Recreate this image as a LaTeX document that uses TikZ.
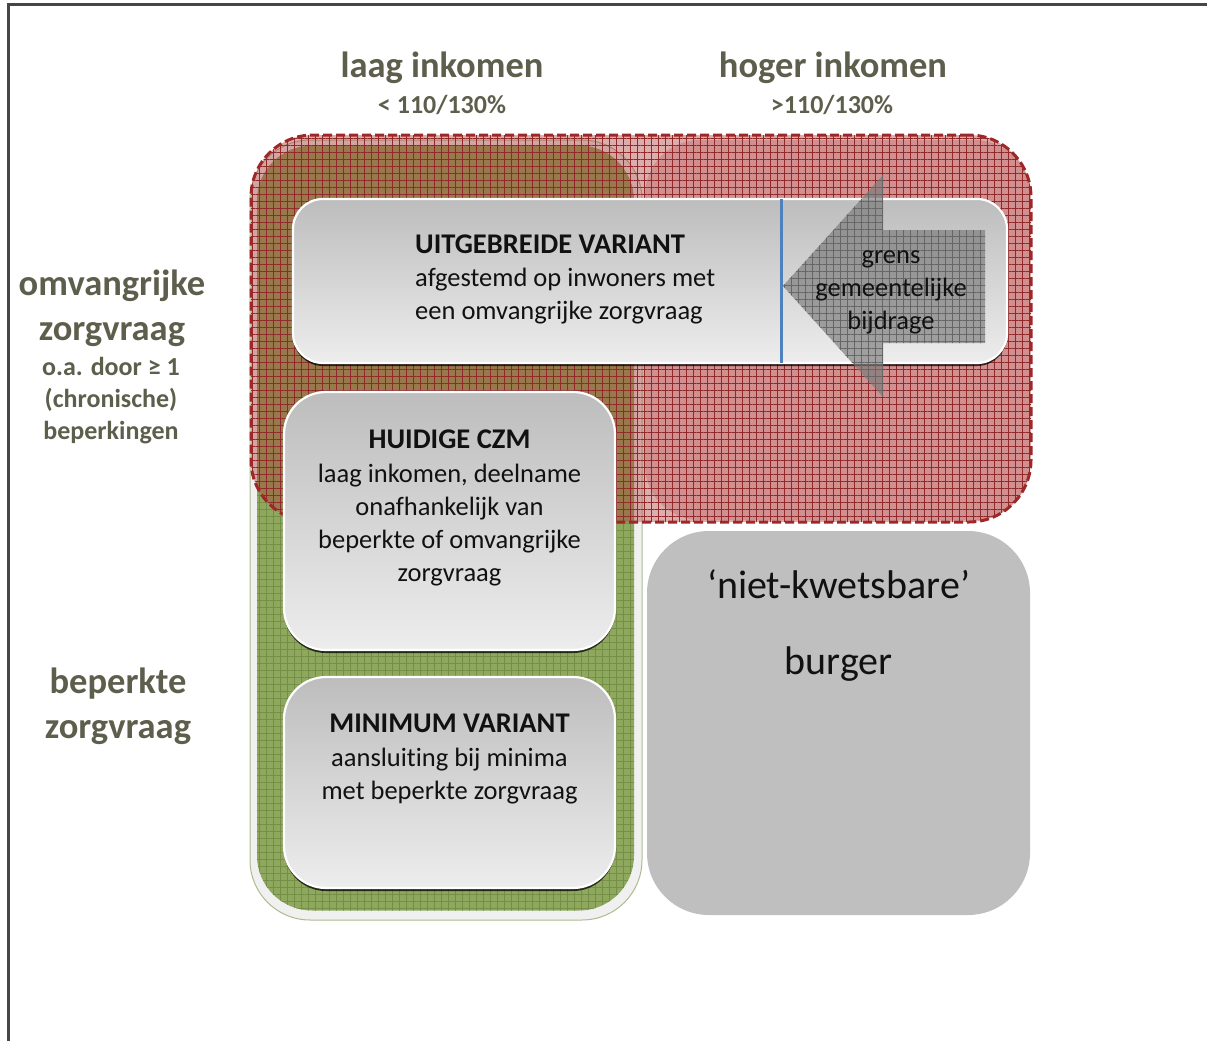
\documentclass[tikz,border=0pt]{standalone}
\usepackage{fontspec}
\setmainfont{Carlito}[Ligatures=CommonOff]
\usetikzlibrary{patterns.meta,shadows}

\definecolor{labelgray}{RGB}{94,94,76}
\definecolor{zgreen}{RGB}{142,168,94}
\definecolor{zgreenline}{RGB}{116,142,72}
\definecolor{zred}{RGB}{170,50,50}
\definecolor{zpink}{RGB}{236,205,205}
\definecolor{dashred}{RGB}{158,40,40}
\definecolor{boxtop}{RGB}{189,189,189}
\definecolor{boxbot}{RGB}{237,237,237}
\definecolor{plaingray}{RGB}{191,191,191}
\definecolor{divblue}{RGB}{79,129,189}
\definecolor{framegray}{RGB}{70,70,70}
\definecolor{arrowgray}{RGB}{120,120,120}
\definecolor{ink}{RGB}{17,17,17}

\tikzset{
  region/.style={shape=rectangle, inner sep=0pt, outer sep=0pt},
  card/.style={region, rounded corners=#1, draw=white, line width=2.2pt,
    top color=boxtop, bottom color=boxbot,
    drop shadow={shadow xshift=0pt, shadow yshift=-3pt, fill=black, opacity=0.75}},
  hdr/.style={inner sep=0pt, text=labelgray, align=center,
    font=\fontsize{36.5}{45}\selectfont\bfseries},
  subhdr/.style={inner sep=0pt, text=labelgray, align=center,
    font=\fontsize{26}{32}\selectfont\bfseries},
  cardtitle/.style={inner sep=0pt, text=ink, font=\fontsize{28.5}{34}\selectfont\bfseries},
  cardbody/.style={inner sep=0pt, text=ink, align=center,
    font=\fontsize{26.5}{33}\selectfont},
  gridtex/.style={postaction={pattern={Hatch[angle=0,distance=7pt,line width=0.7pt]},
                  pattern color=#1}},
}

\begin{document}
\begin{tikzpicture}[x=1pt,y=-1pt]
\useasboundingbox (0,0) rectangle (1207,1041);

% outer frame (top and left edges)
\draw[framegray, line width=3pt] (8,1041) -- (8,5) -- (1207,5);

% column headings
\node[hdr] (lowinc) at (442,68) {laag inkomen};
\node[subhdr] (lowpct) at (442,105) {< 110/130\%};
\node[hdr] (highinc) at (833,68) {hoger inkomen};
\node[subhdr] (highpct) at (832,105) {>110/130\%};

% row headings
\node[hdr] (bigcare) at (112,308) {omvangrijke\\zorgvraag};
\node[subhdr] (bigcarenote) at (111,401) {o.a. door ≥ 1\\(chronische)\\beperkingen};
\node[hdr] (smallcare) at (118,706) {beperkte\\zorgvraag};

% low-income column
\node[region, rounded corners=60pt, minimum width=392pt, minimum height=780pt,
      fill=white!94!black, draw=zgreenline!60, line width=1pt] (lowframe) at (446,530) {};
\node[region, rounded corners=55pt, minimum width=377pt, minimum height=765pt,
      fill=zgreen, gridtex=zgreenline] (lowcol) at (445.5,528) {};

% higher-income column
\node[region, rounded corners=55pt, minimum width=385pt, minimum height=380pt,
      fill=zpink] (highcol) at (837.5,330) {};

% region of extensive care demand
\node[region, rounded corners=62pt, minimum width=780pt, minimum height=387pt,
      fill=zred, fill opacity=0.4, gridtex=zred!85!black] (careregion) at (641,328.5) {};
\node[region, rounded corners=62pt, minimum width=780pt, minimum height=387pt,
      draw=dashred, line width=3pt, dash pattern=on 9pt off 4pt] (careborder) at (641,328.5) {};

% variant cards
\node[card=30pt, minimum width=714pt, minimum height=164pt] (uit) at (650,281) {};
\draw[divblue, line width=3pt] ([xshift=131pt]uit.north) -- ([xshift=131pt]uit.south);
\node[card=42pt, minimum width=331pt, minimum height=258pt] (huidig) at (449.5,521) {};
\node[card=42pt, minimum width=331pt, minimum height=211pt] (minvar) at (449.5,782.5) {};
\node[region, rounded corners=62pt, minimum width=383pt, minimum height=384pt,
      fill=plaingray] (niet) at (838.5,723) {};

% boundary arrow
\fill[arrowgray, fill opacity=0.65, gridtex=black!60]
  (985,230) -- (883,230) -- (883,175) -- (783,286) -- (883,397) -- (883,343) -- (985,343) -- cycle;

% card texts
\node[cardtitle, anchor=west] (uittitle) at (415,244) {UITGEBREIDE VARIANT};
\node[cardbody, align=left, anchor=west] (uitbody) at (415,296)
  {afgestemd op inwoners met\\een omvangrijke zorgvraag};
\node[cardbody] (grens) at (891,292) {grens\\gemeentelijke\\bijdrage};

\node[cardtitle] (huidigtitle) at (449.5,439) {HUIDIGE CZM};
\node[cardbody] (huidigbody) at (449.5,525.5)
  {laag inkomen, deelname\\onafhankelijk van\\beperkte of omvangrijke\\zorgvraag};

\node[cardtitle] (mintitle) at (449.5,723) {MINIMUM VARIANT};
\node[cardbody] (minbody) at (449.5,776) {aansluiting bij minima\\met beperkte zorgvraag};

\node[inner sep=0pt, text=ink, font=\fontsize{40}{48}\selectfont] (nietline) at (838.5,584) {‘niet-kwetsbare’};
\node[inner sep=0pt, text=ink, font=\fontsize{40}{48}\selectfont] (burger) at (838.5,664) {burger};
\end{tikzpicture}
\end{document}
